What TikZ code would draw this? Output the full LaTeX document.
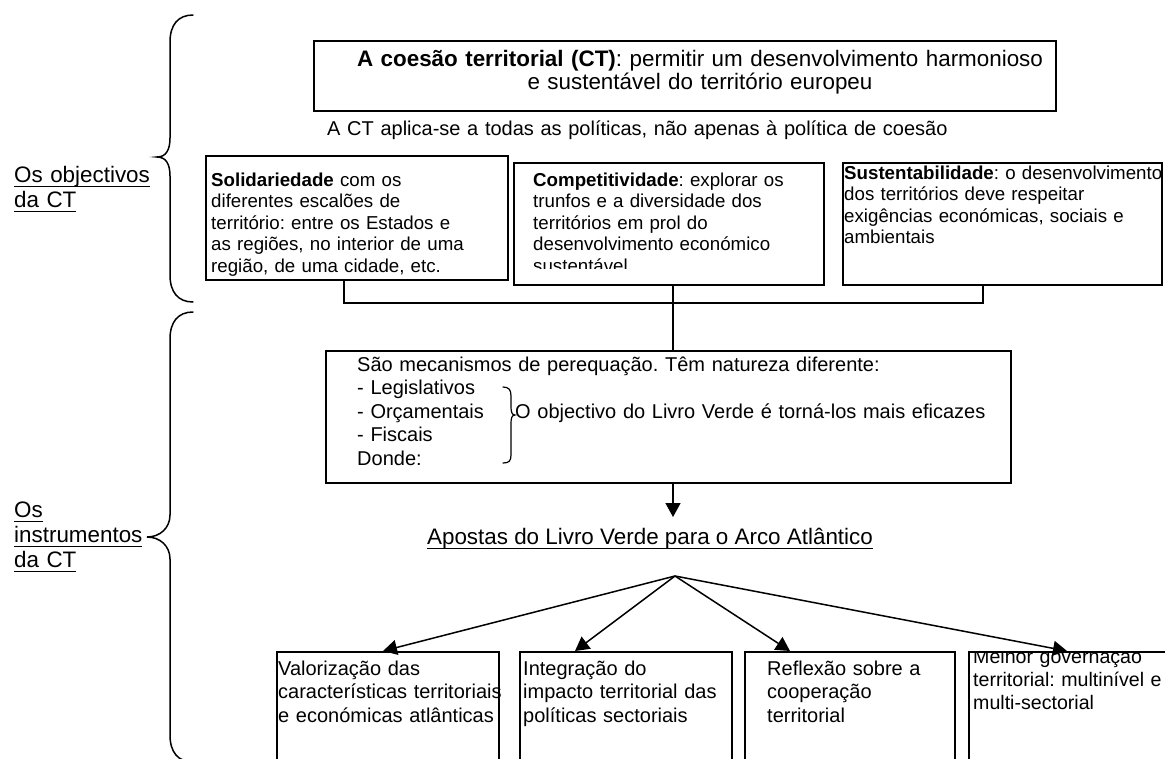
\documentclass[tikz,border=0pt]{standalone}
\usepackage{fontspec}
\setmainfont{Liberation Sans}
\usetikzlibrary{arrows.meta}
\newcommand\fntObj{\fontsize{18.7}{21.6}\selectfont}
\newcommand\fntMid{\fontsize{20}{23.6}\selectfont}
\newcommand\fntBig{\fontsize{22.4}{25}\selectfont}
\newcommand\myul[1]{\leavevmode\setbox0\hbox{#1}\rlap{\rule[-5pt]{\wd0}{1.3pt}}\box0}
\frenchspacing
\begin{document}
\frenchspacing
\begin{tikzpicture}[x=1pt,y=-1pt,
  box/.style={draw, line width=1.5pt, inner sep=0pt, anchor=north west},
  txt/.style={inner sep=0pt, anchor=base west, align=left, text width=#1},
  txt/.default=1000pt,
  arr/.style={line width=1.5pt, -{Triangle[length=14pt,width=15pt]}},
  con/.style={line width=1.5pt},
  brace/.style={line width=1.5pt, line cap=round}]
\clip (0,0) rectangle (1165,758);
\fill[white] (0,0) rectangle (1165,758);

% left braces and labels
\draw[brace] (193,15) .. controls (178,15) and (170,25) .. (170,42) -- (170,138)
  .. controls (170,150) and (166,157) .. (157,157)
  .. controls (166,157) and (170,164) .. (170,176) -- (170,275)
  .. controls (170,292) and (178,302) .. (193,302);
\draw[brace] (193,312) .. controls (178,312) and (170,322) .. (170,339) -- (170,515)
  .. controls (170,528) and (160,537) .. (147,537)
  .. controls (160,537) and (170,546) .. (170,559) -- (170,735)
  .. controls (170,752) and (178,762) .. (193,762);
\node[txt, font=\fntBig] (lobj) at (14,182) {\myul{Os objectivos}\\\myul{da CT}};
\node[txt, font=\fntBig] (linst) at (14,517) {\myul{Os}\\\myul{instrumentos}\\\myul{da CT}};

% top box
\node[box, minimum width=742pt, minimum height=70pt] (ct) at (313,40) {};
\node[inner sep=0pt, anchor=base, align=center, text width=742pt,
  font=\fontsize{22.4}{23}\selectfont] (cttxt) at (700,66)
  {\textbf{A coesão territorial (CT)}: permitir um desenvolvimento harmonioso\\e sustentável do território europeu};
\node[txt, font=\fntMid] (aplica) at (327,135) {A CT aplica-se a todas as políticas, não apenas à política de coesão};

% objective boxes
\node[box, minimum width=302pt, minimum height=124pt] (sol) at (205,155) {};
\node[box, minimum width=310pt, minimum height=122pt] (comp) at (513,162) {};
\node[box, minimum width=319pt, minimum height=122pt] (sust) at (842,162) {};
\node[txt, font=\fntObj] (soltxt) at (211,186)
  {\textbf{Solidariedade} com os\\diferentes escalões de\\território: entre os Estados e\\as regiões, no interior de uma\\região, de uma cidade, etc.};
\begin{scope}
\clip (513,162) rectangle (823,268);
\node[txt, font=\fntObj] (comptxt) at (533,186)
  {\textbf{Competitividade}: explorar os\\trunfos e a diversidade dos\\territórios em prol do\\desenvolvimento económico\\sustentável};
\end{scope}
\node[txt, font=\fntObj] (susttxt) at (844,179)
  {\textbf{Sustentabilidade}: o desenvolvimento\\dos territórios deve respeitar\\exigências económicas, sociais e\\ambientais};

% middle box
\node[box, minimum width=685pt, minimum height=132pt] (mid) at (325,350) {};
\node[txt, font=\fntMid] (midtxt) at (357,371)
  {São mecanismos de perequação. Têm natureza diferente:\\- Legislativos\\- Orçamentais\\- Fiscais\\Donde:};
\node[txt, font=\fntMid] (goal) at (515,418) {O objectivo do Livro Verde é torná-los mais eficazes};
\draw[brace, line width=1.2pt] (503,387) .. controls (509,387) and (511,390) .. (511,396) -- (511,407)
  .. controls (511,412) and (512,415) .. (515,415)
  .. controls (512,415) and (511,418) .. (511,423) -- (511,455)
  .. controls (511,461) and (509,463) .. (503,463);

% connectors between objectives and middle box
\coordinate (join) at (673,303);
\draw[con] ([xshift=139pt]sol.south west) |- (join) -| ([xshift=141pt]sust.south west);
\draw[con] ([xshift=160pt]comp.south west) -- ([xshift=348pt]mid.north west);

% arrow and title
\coordinate (arrEnd) at (673,517);
\draw[arr] (mid.south -| arrEnd) -- (arrEnd);
\node[inner sep=0pt, anchor=base, font=\fntBig] (apostas) at (650,544) {\myul{Apostas do Livro Verde para o Arco Atlântico}};

% bottom boxes
\coordinate (fan) at (675,576);
\node[box, minimum width=222pt, minimum height=130pt] (b1) at (276,651) {};
\node[box, minimum width=212pt, minimum height=130pt] (b2) at (519,651) {};
\node[box, minimum width=210pt, minimum height=130pt] (b3) at (744,651) {};
\node[box, minimum width=250pt, minimum height=130pt] (b4) at (968,651) {};
\draw[arr] (fan) -- ([xshift=107pt]b1.north west);
\draw[arr] (fan) -- ([xshift=56pt]b2.north west);
\draw[arr] (fan) -- ([xshift=46pt]b3.north west);
\draw[arr] (fan) -- ([xshift=99pt]b4.north west);
\node[txt, font=\fntMid] (b1txt) at (278,675) {Valorização das\\características territoriais\\e económicas atlânticas};
\node[txt, font=\fntMid] (b2txt) at (523,675) {Integração do\\impacto territorial das\\políticas sectoriais};
\node[txt, font=\fntMid] (b3txt) at (767,675) {Reflexão sobre a\\cooperação\\territorial};
\begin{scope}
\clip (968,652) rectangle (1165,758);
\node[txt, font=\fontsize{19.6}{23.4}\selectfont] (b4txt) at (973,663) {Melhor governação\\territorial: multinível e\\multi-sectorial};
\end{scope}
\end{tikzpicture}
\end{document}
